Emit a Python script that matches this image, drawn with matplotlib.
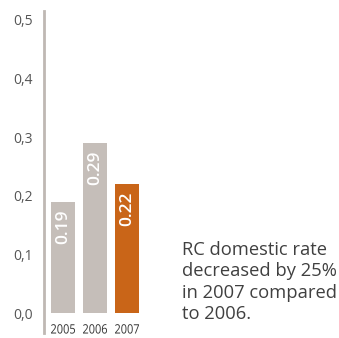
import matplotlib
matplotlib.use("Agg")
import matplotlib.pyplot as plt
from matplotlib.textpath import TextPath
from matplotlib.patches import PathPatch
from matplotlib.font_manager import FontProperties
from matplotlib.transforms import Affine2D

# RC domestic rate by year
years = ["2005", "2006", "2007"]
rates = [0.19, 0.29, 0.22]
bar_colors = ["#c5beb9", "#c5beb9", "#c96518"]
y_ticks = [0.0, 0.1, 0.2, 0.3, 0.4, 0.5]
y_tick_labels = ["0,0", "0,1", "0,2", "0,3", "0,4", "0,5"]
note = "RC domestic rate\ndecreased by 25%\nin 2007 compared\nto 2006."

fig = plt.figure(figsize=(3.39, 3.38), dpi=100)
ax = fig.add_axes([44 / 339, 5 / 338, 120 / 339, 322 / 338])

x = range(len(years))
ax.bar(x, rates, width=0.75, color=bar_colors)

# value labels written vertically inside the top of each bar
for i, v in enumerate(rates):
    ax.text(i, v - 0.013, f"{v:.2f}", rotation=90, ha="center", va="top",
            color="white", fontsize=12.5, fontweight="semibold", family="Open Sans")

ax.set_xlim(-0.594, 3.156)
ax.set_ylim(-0.034, 0.515)
ax.set_yticks(y_ticks)
ax.set_yticklabels(y_tick_labels, family="Open Sans", fontsize=10, color="#555555")
ax.tick_params(axis="y", length=0, pad=8)
ax.set_xticks([])
for side in ["top", "right", "bottom"]:
    ax.spines[side].set_visible(False)
ax.spines["left"].set_color("#bfb8b3")
ax.spines["left"].set_linewidth(2)

# year labels under the bars, squeezed horizontally (condensed look)
fp = FontProperties(family="Open Sans", size=12)
for i, yr in enumerate(years):
    tp = TextPath((0, 0), yr, prop=fp)
    bb = tp.get_extents()
    sx = 24 / bb.width
    sy = 9.5 / bb.height
    cx, cy = ax.transData.transform((i, -0.027))
    tr = (Affine2D().translate(-(bb.x0 + bb.x1) / 2, -(bb.y0 + bb.y1) / 2)
          .scale(sx, sy).translate(cx, cy))
    fig.patches.append(PathPatch(tr.transform_path(tp), facecolor="#333333",
                                 edgecolor="none", transform=None, figure=fig))

fig.text(182 / 339, 1 - 241 / 338, note, ha="left", va="top", color="#404040",
         fontsize=13.2, family="Open Sans", linespacing=1.24)

fig.savefig("out.png", dpi=100)
